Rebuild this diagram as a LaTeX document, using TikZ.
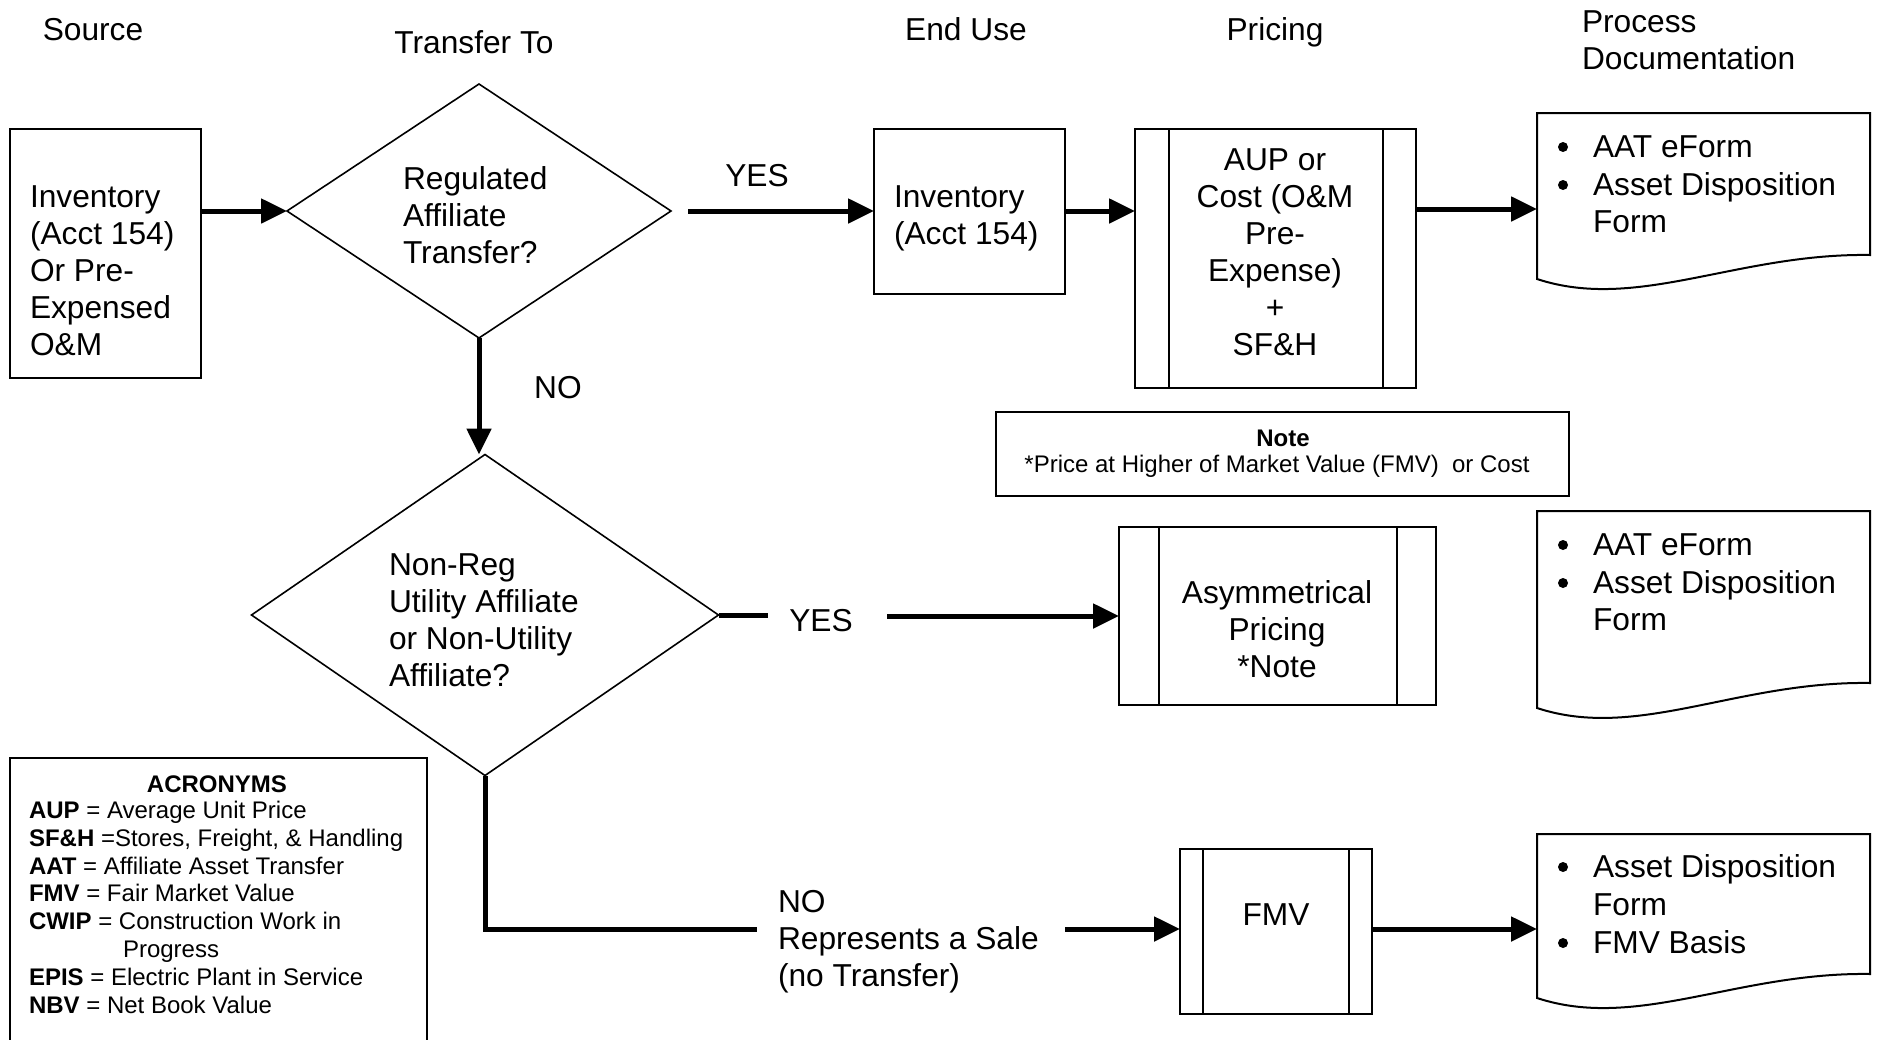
\documentclass[tikz,border=0pt]{standalone}
\usepackage{fontspec}
\setmainfont{Liberation Sans}
\usetikzlibrary{arrows.meta,shapes.geometric}
\begin{document}
\begin{tikzpicture}[x=1pt,y=-1pt,
  txt/.style={font=\fontsize{31.7}{37}\selectfont, inner sep=0pt, outer sep=0pt},
  doctxt/.style={font=\fontsize{31.7}{37.7}\selectfont, inner sep=0pt, outer sep=0pt, anchor=north west, align=left},
  small/.style={font=\fontsize{24}{27.8}\selectfont, inner sep=0pt, outer sep=0pt},
  boxln/.style={draw, line width=2pt, inner sep=0pt, outer sep=0pt},
  dia/.style={draw, diamond, line width=1.6pt, inner sep=0pt, outer sep=0pt},
  bul/.style={fill=black},
  conn/.style={line width=5pt},
  arr/.style={line width=5pt, -{Triangle[length=26pt,width=24pt]}},
]
\useasboundingbox (0,0) rectangle (1877,1039);
\fill[white] (0,0) rectangle (1877,1039);

% headers
\node[txt, anchor=base] (hsrc) at (93,40) {Source};
\node[txt, anchor=base] (htr) at (474,53) {Transfer To};
\node[txt, anchor=base] (hend) at (966,40) {End Use};
\node[txt, anchor=base] (hpri) at (1275,40) {Pricing};
\node[txt, anchor=north west, align=left] (hdoc) at (1582,10.5) {Process\\Documentation};

% source box
\node[boxln, anchor=north west, minimum width=191pt, minimum height=249pt] (src) at (10,129) {};
\node[txt, anchor=north west, align=left] (srct) at (30,186) {Inventory\\(Acct 154)\\Or Pre-\\Expensed\\O\&M};

% decision 1
\node[dia, minimum width=384pt, minimum height=254pt] (d1) at (479,211) {};
\node[txt, anchor=north west, align=left] (d1t) at (403,166.5) {Regulated\\Affiliate\\Transfer?};

% inventory 2
\node[boxln, anchor=north west, minimum width=191pt, minimum height=165pt] (inv) at (874,129) {};
\node[txt, anchor=north west, align=left] (invt) at (894,186) {Inventory\\(Acct 154)};

% pricing 1
\node[boxln, anchor=north west, minimum width=281pt, minimum height=259pt] (p1) at (1135,129) {};
\draw[line width=2pt] ([xshift=34pt]p1.north west) -- ([xshift=34pt]p1.south west);
\draw[line width=2pt] ([xshift=-33pt]p1.north east) -- ([xshift=-33pt]p1.south east);
\node[txt, anchor=north, align=center] (p1t) at (1275,149) {AUP or\\Cost (O\&M\\Pre-\\Expense)\\+\\SF\&H};

% document 1
\draw[line width=2pt] (1537,279) -- (1537,113) -- (1870,113) -- (1870,255)
  .. controls (1737,253) and (1637,312) .. (1537,279) -- cycle;
\coordinate (doc1w) at (1537,209);
\fill[bul] (1563,147) circle (5pt);
\fill[bul] (1563,185) circle (5pt);
\node[doctxt] (doc1t) at (1593,135.5) {AAT eForm\\Asset Disposition\\Form};

% note
\node[boxln, anchor=north west, minimum width=573pt, minimum height=84pt] (note) at (996,412) {};
\node[small, anchor=base, font=\fontsize{24}{27.8}\selectfont\bfseries] (noteh) at (1283,446) {Note};
\node[small, anchor=base] (notet) at (1277,472) {*Price at Higher of Market Value (FMV)\ \ or Cost};

% decision 2
\node[dia, minimum width=467pt, minimum height=321pt] (d2) at (485,615) {};
\node[txt, anchor=north west, align=left] (d2t) at (389,553.5) {Non-Reg\\Utility Affiliate\\or Non-Utility\\Affiliate?};

% asymmetrical pricing
\node[boxln, anchor=north west, minimum width=317pt, minimum height=178pt] (asym) at (1119,527) {};
\draw[line width=2pt] ([xshift=40pt]asym.north west) -- ([xshift=40pt]asym.south west);
\draw[line width=2pt] ([xshift=-39pt]asym.north east) -- ([xshift=-39pt]asym.south east);
\node[txt, anchor=north, align=center] (asymt) at (1277,581) {Asymmetrical\\Pricing\\*Note};

% document 2
\draw[line width=2pt] (1537,708) -- (1537,511) -- (1870,511) -- (1870,683)
  .. controls (1737,681) and (1637,741) .. (1537,708) -- cycle;
\fill[bul] (1563,545) circle (5pt);
\fill[bul] (1563,583) circle (5pt);
\node[doctxt] (doc2t) at (1593,533.5) {AAT eForm\\Asset Disposition\\Form};

% FMV box
\node[boxln, anchor=north west, minimum width=192pt, minimum height=165pt] (fmv) at (1180,849) {};
\draw[line width=2pt] ([xshift=23pt]fmv.north west) -- ([xshift=23pt]fmv.south west);
\draw[line width=2pt] ([xshift=-23pt]fmv.north east) -- ([xshift=-23pt]fmv.south east);
\node[txt, anchor=base] (fmvt) at (1276,925) {FMV};

% document 3
\draw[line width=2pt] (1537,998) -- (1537,834) -- (1870,834) -- (1870,974)
  .. controls (1737,972) and (1637,1031) .. (1537,998) -- cycle;
\coordinate (doc3w) at (1537,929);
\fill[bul] (1563,867) circle (5pt);
\fill[bul] (1563,943) circle (5pt);
\node[doctxt] (doc3t) at (1593,855) {Asset Disposition\\Form\\FMV Basis};

% acronyms
\node[boxln, anchor=north west, minimum width=417pt, minimum height=300pt] (acr) at (10,758) {};
\node[small, anchor=base, font=\fontsize{24}{27.8}\selectfont\bfseries] (acrh) at (217,792) {ACRONYMS};
\node[small, anchor=north west, align=left] (acrt) at (29,801)
  {\textbf{AUP} = Average Unit Price\\
   \textbf{SF\&H} =Stores, Freight, \& Handling\\
   \textbf{AAT} = Affiliate Asset Transfer\\
   \textbf{FMV} = Fair Market Value\\
   \textbf{CWIP} = Construction Work in\\
   \hspace*{94pt}Progress\\
   \textbf{EPIS} = Electric Plant in Service\\
   \textbf{NBV} = Net Book Value};

% connectors
\draw[arr] (src.east |- d1.west) -- (d1.west);
\coordinate (y1s) at (688,211);
\draw[arr] (y1s) -- (inv.west |- y1s);
\node[txt, anchor=base] (yes1) at (757,186) {YES};
\draw[arr] (inv.east |- y1s) -- (p1.west |- y1s);
\draw[arr] (p1.east |- doc1w) -- (doc1w);

\draw[arr] (d1.south) -- (d1.south |- d2.north);
\node[txt, anchor=base] (no1) at (558,398) {NO};

\coordinate (y2a) at (768,615);
\coordinate (y2b) at (887,616);
\draw[conn] (d2.east) -- (y2a);
\node[txt, anchor=base] (yes2) at (821,631) {YES};
\draw[arr] (y2b) -- (asym.west |- y2b);

\coordinate (n2a) at (757,929);
\draw[conn] (d2.south) |- (n2a);
\node[txt, anchor=north west, align=left] (no2) at (778,890) {NO\\Represents a Sale\\(no Transfer)};
\coordinate (n2b) at (1065,929);
\draw[arr] (n2b) -- (fmv.west |- n2b);
\draw[arr] (fmv.east |- doc3w) -- (doc3w);
\end{tikzpicture}
\end{document}
